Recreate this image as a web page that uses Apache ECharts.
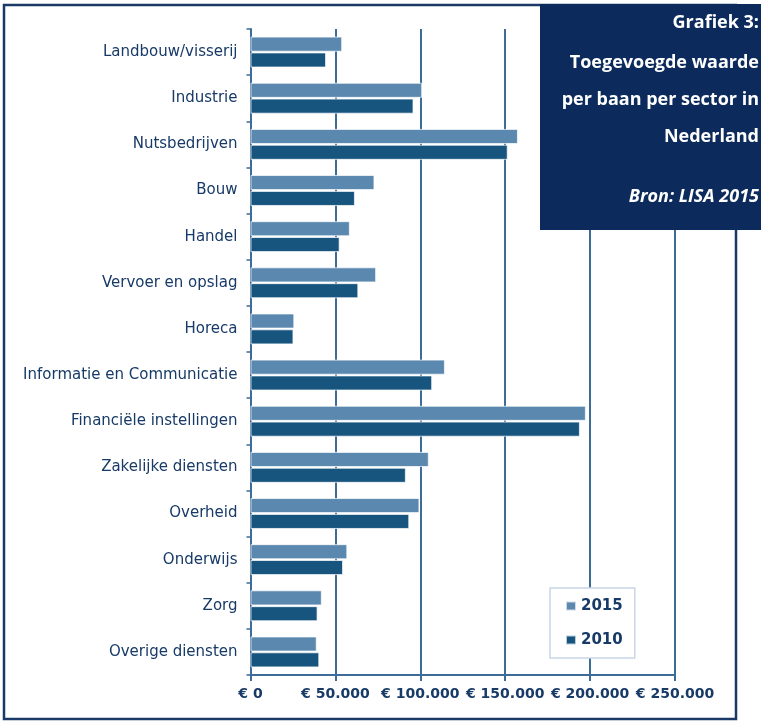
<!DOCTYPE html>
<html>
<head>
<meta charset="utf-8">
<script src="https://cdn.jsdelivr.net/npm/echarts@6/dist/echarts.min.js"></script>
<style>
html,body{margin:0;padding:0;background:#fff;}
#chart{width:761px;height:722px;}
</style>
</head>
<body>
<div id="chart"></div>
<script>
const categories = ["Landbouw/visserij","Industrie","Nutsbedrijven","Bouw","Handel","Vervoer en opslag","Horeca","Informatie en Communicatie","Financiële instellingen","Zakelijke diensten","Overheid","Onderwijs","Zorg","Overige diensten"];
const values2015 = [54000,101000,157500,73000,58500,74000,25800,114500,197500,105000,99500,57000,42000,39000];
const values2010 = [44500,96000,151500,61500,52500,63500,25300,107000,194000,91500,93500,54500,39500,40500];
const seriesNames = ["2015","2010"];
const xTicks = {min:0, max:250000, interval:50000};
const titleLines = ["Grafiek 3:","Toegevoegde waarde","per baan per sector in","Nederland"];
const sourceLine = "Bron: LISA 2015";

const navy = "#0c2b5c";
const textBlue = "#173a67";
const gridBlue = "#3d6c99";

function fmtEuro(v){
  return "€ " + String(v).replace(/\B(?=(\d{3})+(?!\d))/g, ".");
}

const chart = echarts.init(document.getElementById('chart'), null, {renderer:'canvas'});

const titleY = [23, 63, 100, 137];
const graphics = [
  {type:'rect', z:-1, shape:{x:4, y:5, width:732, height:714}, style:{fill:'none', stroke:'#1a3966', lineWidth:2.5}},
  {type:'rect', z:10, shape:{x:540, y:4, width:221, height:226}, style:{fill:navy}}
];
titleLines.forEach((t,i)=>{
  graphics.push({type:'text', z:11, x:759, y:titleY[i], style:{text:t, fill:'#fff', font:'bold 18px "Open Sans"', textAlign:'right', textVerticalAlign:'middle'}});
});
graphics.push({type:'text', z:11, x:759, y:197, style:{text:sourceLine, fill:'#fff', font:'italic bold 18px "Open Sans"', textAlign:'right', textVerticalAlign:'middle'}});

chart.setOption({
  animation:false,
  backgroundColor:'#fff',
  grid:{left:250.5, right:86, top:29, bottom:47, containLabel:false},
  xAxis:{
    type:'value', min:xTicks.min, max:xTicks.max, interval:xTicks.interval,
    axisLine:{show:true, lineStyle:{color:gridBlue, width:2}},
    axisTick:{show:true, length:6, lineStyle:{color:gridBlue, width:2}},
    splitLine:{show:true, lineStyle:{color:gridBlue, width:2}},
    axisLabel:{formatter:fmtEuro, color:textBlue, fontFamily:'DejaVu Sans', fontWeight:'bold', fontSize:14, margin:12}
  },
  yAxis:{
    type:'category', data:categories, inverse:true,
    axisLine:{show:true, lineStyle:{color:gridBlue, width:2}},
    axisTick:{show:true, length:4, lineStyle:{color:gridBlue, width:1.5}},
    axisLabel:{color:textBlue, fontFamily:'DejaVu Sans', fontSize:15, margin:13}
  },
  legend:{
    orient:'vertical', left:550, top:588,
    data:seriesNames,
    backgroundColor:'#fff', borderColor:'#c9d6e6', borderWidth:1.5,
    padding:[10,12,10,15],
    itemWidth:10, itemHeight:9, itemGap:18,
    icon:'rect',
    textStyle:{color:textBlue, fontFamily:'DejaVu Sans', fontWeight:'bold', fontSize:15, lineHeight:16}
  },
  series:[
    {name:seriesNames[0], type:'bar', data:values2015, barCategoryGap:'33%', barGap:'5%',
     itemStyle:{color:'#5a88af', borderColor:'rgba(255,255,255,0.7)', borderWidth:1}},
    {name:seriesNames[1], type:'bar', data:values2010,
     itemStyle:{color:'#17557f', borderColor:'rgba(255,255,255,0.7)', borderWidth:1}}
  ],
  graphic:graphics
});
</script>
</body>
</html>
